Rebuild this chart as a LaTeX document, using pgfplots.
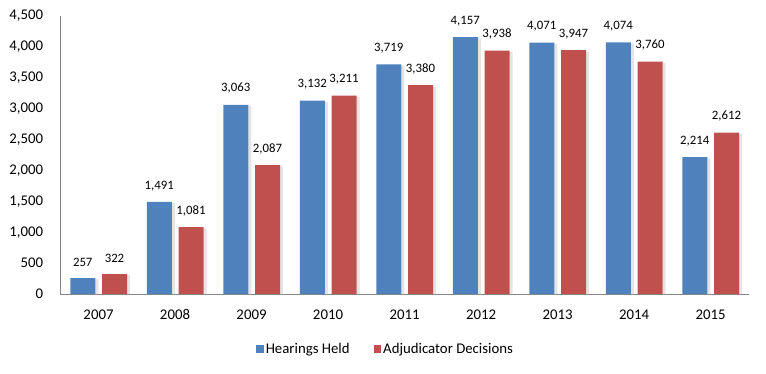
\documentclass[border=0pt]{standalone}
\usepackage{pgfplots}
\pgfplotsset{compat=1.18}
\usepackage{fontspec}
\setmainfont{Carlito}
\definecolor{hblue}{HTML}{4F81BD}
\definecolor{hred}{HTML}{C0504D}
\definecolor{axgray}{HTML}{868686}
\definecolor{shad}{HTML}{E4E4E4}
\begin{document}
\begin{tikzpicture}
\useasboundingbox (0,0) rectangle (766pt,373pt);
\begin{axis}[
  at={(60.25pt,79pt)}, anchor=south west,
  scale only axis, width=688.5pt, height=278pt,
  ybar, bar width=25pt,
  xmin=-0.5, xmax=8.5, ymin=0, ymax=4500,
  xtick={0,1,2,3,4,5,6,7,8},
  xticklabels={2007,2008,2009,2010,2011,2012,2013,2014,2015},
  ytick={0,500,...,4500},
  axis x line*=bottom, axis y line*=left,
  axis line style={axgray, line width=0.8pt, -},
  major tick length=0pt,
  /pgf/number format/assume math mode=true,
  /pgf/number format/1000 sep={,},
  ticklabel style={font=\fontsize{14.8}{17}\selectfont, text=black},
  xticklabel style={inner sep=0pt, anchor=base, yshift=-25.5pt, draw=white},
  yticklabel style={inner sep=0pt, anchor=east, xshift=-17pt},
  every node near coord/.append style={font=\fontsize{12.8}{15}\selectfont, text=black, inner sep=0pt, anchor=south, yshift=11pt,
     /pgf/number format/assume math mode=true, /pgf/number format/1000 sep={,}},
  legend style={at={(0.4725,-0.198)}, anchor=center, draw=none, fill=none,
     legend columns=2, font=\fontsize{14.8}{17}\selectfont,
     /tikz/every even column/.append style={column sep=22pt}},
  legend image code/.code={\fill[#1] (0pt,-3.8pt) rectangle (7.6pt,3.8pt);},
]
\addplot[forget plot, fill=shad, draw=none, bar width=3pt, bar shift=-1.75pt] coordinates {(0,240) (1,1470) (2,3040) (3,3110) (4,3695) (5,4135) (6,4050) (7,4052) (8,2195)};
\addplot[forget plot, fill=shad, draw=none, bar width=3pt, bar shift=30pt] coordinates {(0,305) (1,1060) (2,2065) (3,3190) (4,3358) (5,3915) (6,3925) (7,3738) (8,2592)};
\addplot[fill=hblue, draw=none, bar shift=-15.75pt, nodes near coords] coordinates {(0,257) (1,1491) (2,3063) (3,3132) (4,3719) (5,4157) (6,4071) (7,4074) (8,2214)};
\addplot[fill=hred, draw=none, bar shift=16pt, nodes near coords] coordinates {(0,322) (1,1081) (2,2087) (3,3211) (4,3380) (5,3938) (6,3947) (7,3760) (8,2612)};
\legend{Hearings Held, Adjudicator Decisions}
\end{axis}
\end{tikzpicture}
\end{document}
